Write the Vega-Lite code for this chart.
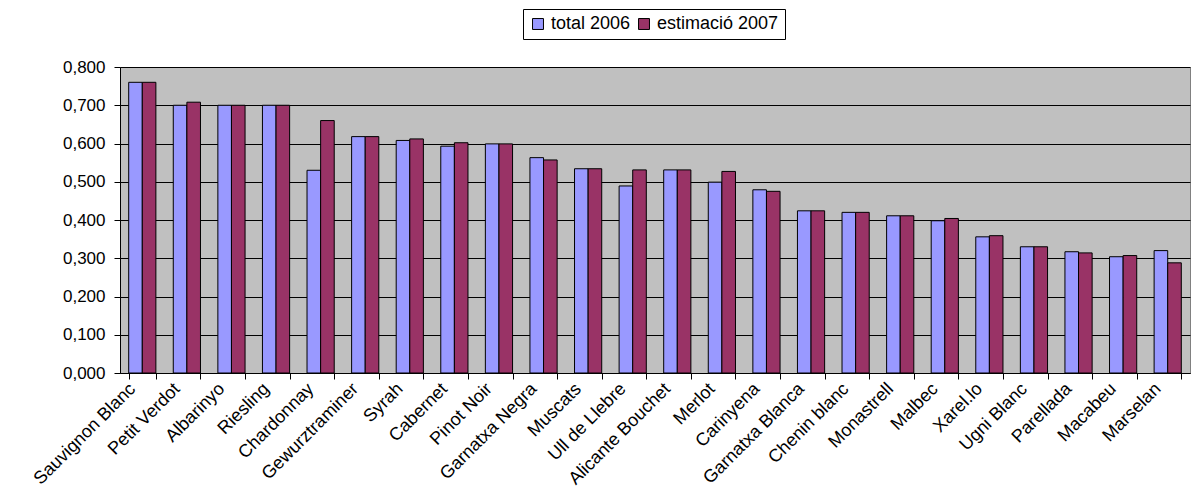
{
  "$schema": "https://vega.github.io/schema/vega-lite/v6.json",
  "autosize": "none",
  "width": 1070,
  "height": 306,
  "padding": {"left": 120, "top": 67, "right": 13, "bottom": 127},
  "background": "white",
  "config": {
    "font": "Liberation Sans",
    "locale": {"number": {"decimal": ",", "thousands": ".", "grouping": [3], "currency": ["", " €"]}},
    "view": {"fill": "#C0C0C0", "stroke": "#808080", "strokeWidth": 1}
  },
  "data": {
    "values": [
      {"varietat": "Sauvignon Blanc", "serie": "total 2006", "valor": 0.760},
      {"varietat": "Sauvignon Blanc", "serie": "estimació 2007", "valor": 0.760},
      {"varietat": "Petit Verdot", "serie": "total 2006", "valor": 0.700},
      {"varietat": "Petit Verdot", "serie": "estimació 2007", "valor": 0.708},
      {"varietat": "Albarinyo", "serie": "total 2006", "valor": 0.700},
      {"varietat": "Albarinyo", "serie": "estimació 2007", "valor": 0.700},
      {"varietat": "Riesling", "serie": "total 2006", "valor": 0.700},
      {"varietat": "Riesling", "serie": "estimació 2007", "valor": 0.700},
      {"varietat": "Chardonnay", "serie": "total 2006", "valor": 0.530},
      {"varietat": "Chardonnay", "serie": "estimació 2007", "valor": 0.660},
      {"varietat": "Gewurztraminer", "serie": "total 2006", "valor": 0.618},
      {"varietat": "Gewurztraminer", "serie": "estimació 2007", "valor": 0.618},
      {"varietat": "Syrah", "serie": "total 2006", "valor": 0.608},
      {"varietat": "Syrah", "serie": "estimació 2007", "valor": 0.612},
      {"varietat": "Cabernet", "serie": "total 2006", "valor": 0.593},
      {"varietat": "Cabernet", "serie": "estimació 2007", "valor": 0.602},
      {"varietat": "Pinot Noir", "serie": "total 2006", "valor": 0.599},
      {"varietat": "Pinot Noir", "serie": "estimació 2007", "valor": 0.599},
      {"varietat": "Garnatxa Negra", "serie": "total 2006", "valor": 0.563},
      {"varietat": "Garnatxa Negra", "serie": "estimació 2007", "valor": 0.557},
      {"varietat": "Muscats", "serie": "total 2006", "valor": 0.534},
      {"varietat": "Muscats", "serie": "estimació 2007", "valor": 0.534},
      {"varietat": "Ull de Llebre", "serie": "total 2006", "valor": 0.489},
      {"varietat": "Ull de Llebre", "serie": "estimació 2007", "valor": 0.531},
      {"varietat": "Alicante Bouchet", "serie": "total 2006", "valor": 0.531},
      {"varietat": "Alicante Bouchet", "serie": "estimació 2007", "valor": 0.531},
      {"varietat": "Merlot", "serie": "total 2006", "valor": 0.499},
      {"varietat": "Merlot", "serie": "estimació 2007", "valor": 0.527},
      {"varietat": "Carinyena", "serie": "total 2006", "valor": 0.479},
      {"varietat": "Carinyena", "serie": "estimació 2007", "valor": 0.475},
      {"varietat": "Garnatxa Blanca", "serie": "total 2006", "valor": 0.424},
      {"varietat": "Garnatxa Blanca", "serie": "estimació 2007", "valor": 0.424},
      {"varietat": "Chenin blanc", "serie": "total 2006", "valor": 0.420},
      {"varietat": "Chenin blanc", "serie": "estimació 2007", "valor": 0.420},
      {"varietat": "Monastrell", "serie": "total 2006", "valor": 0.411},
      {"varietat": "Monastrell", "serie": "estimació 2007", "valor": 0.411},
      {"varietat": "Malbec", "serie": "total 2006", "valor": 0.398},
      {"varietat": "Malbec", "serie": "estimació 2007", "valor": 0.404},
      {"varietat": "Xarel.lo", "serie": "total 2006", "valor": 0.356},
      {"varietat": "Xarel.lo", "serie": "estimació 2007", "valor": 0.359},
      {"varietat": "Ugni Blanc", "serie": "total 2006", "valor": 0.330},
      {"varietat": "Ugni Blanc", "serie": "estimació 2007", "valor": 0.330},
      {"varietat": "Parellada", "serie": "total 2006", "valor": 0.317},
      {"varietat": "Parellada", "serie": "estimació 2007", "valor": 0.314},
      {"varietat": "Macabeu", "serie": "total 2006", "valor": 0.304},
      {"varietat": "Macabeu", "serie": "estimació 2007", "valor": 0.307},
      {"varietat": "Marselan", "serie": "total 2006", "valor": 0.320},
      {"varietat": "Marselan", "serie": "estimació 2007", "valor": 0.288}
    ]
  },
  "mark": {"type": "bar", "stroke": "black", "strokeWidth": 1},
  "encoding": {
    "x": {
      "field": "varietat",
      "type": "nominal",
      "sort": null,
      "scale": {"paddingInner": 0.39, "paddingOuter": 0.195},
      "axis": {
        "title": null,
        "labelAngle": -45,
        "labelAlign": "right",
        "labelBaseline": "middle",
        "labelFontSize": 18,
        "labelColor": "black",
        "labelPadding": 7,
        "labelOffset": -10,
        "tickBand": "extent",
        "tickColor": "black",
        "tickSize": 6,
        "domainColor": "black",
        "grid": false
      }
    },
    "xOffset": {
      "field": "serie",
      "type": "nominal",
      "sort": ["total 2006", "estimació 2007"],
      "scale": {"paddingInner": 0, "paddingOuter": 0}
    },
    "y": {
      "field": "valor",
      "type": "quantitative",
      "scale": {"domain": [0, 0.8], "nice": false},
      "axis": {
        "title": null,
        "format": ".3f",
        "values": [0, 0.1, 0.2, 0.3, 0.4, 0.5, 0.6, 0.7, 0.8],
        "labelFontSize": 17,
        "labelColor": "black",
        "labelPadding": 9,
        "tickColor": "black",
        "tickSize": 6,
        "domainColor": "black",
        "grid": true,
        "gridColor": "black",
        "gridWidth": 1,
        "gridOpacity": 1
      }
    },
    "color": {
      "field": "serie",
      "type": "nominal",
      "sort": ["total 2006", "estimació 2007"],
      "scale": {"domain": ["total 2006", "estimació 2007"], "range": ["#9999FF", "#993366"]},
      "legend": {
        "title": null,
        "orient": "none",
        "direction": "horizontal",
        "legendX": 403,
        "legendY": -58,
        "strokeColor": "black",
        "fillColor": "white",
        "padding": 6,
        "symbolType": "square",
        "symbolSize": 120,
        "symbolStrokeColor": "black",
        "symbolStrokeWidth": 1,
        "symbolOpacity": 1,
        "labelFontSize": 18,
        "labelColor": "black",
        "columnPadding": 4,
        "labelOffset": 4
      }
    }
  }
}
